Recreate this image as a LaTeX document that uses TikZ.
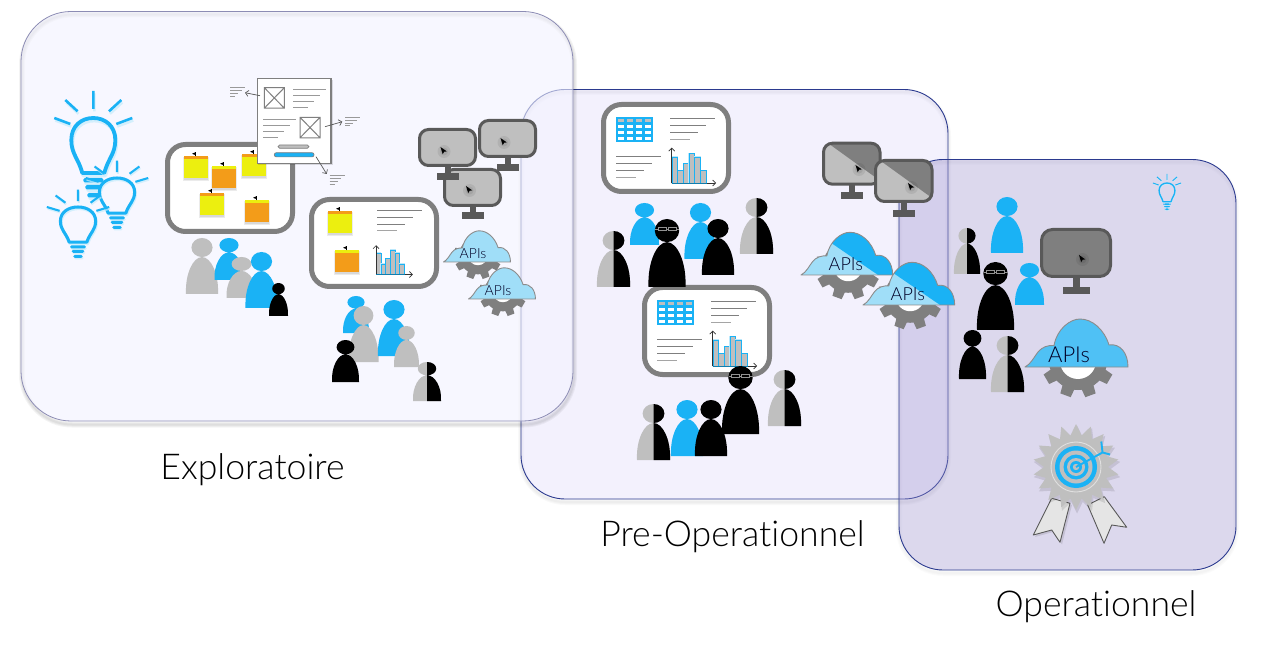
\documentclass[tikz,border=0pt]{standalone}
\usepackage{fontspec}
\usetikzlibrary{arrows.meta}
\setmainfont{Lato}[UprightFont=* Light,Ligatures=NoCommon,Contextuals=NoAlternate]
\definecolor{cblue}{HTML}{1AB2F5}
\definecolor{cgray}{HTML}{BFBFBF}
\definecolor{cdark}{HTML}{595959}
\definecolor{cmid}{HTML}{7F7F7F}
\definecolor{cyel}{HTML}{ECEF0F}
\definecolor{corg}{HTML}{F39C19}
\definecolor{cpale}{HTML}{A0DEF8}
\definecolor{cbig}{HTML}{4FC1F5}
\definecolor{pa}{HTML}{F3F3FF}
\definecolor{pb}{HTML}{DDD7FC}
\definecolor{pc}{HTML}{9B90CE}
\definecolor{bordera}{HTML}{8C8CB4}
\definecolor{borderb}{HTML}{2B3A8F}
\tikzset{
  panelone/.style={fill=pa,fill opacity=.6,draw=bordera,draw opacity=1,line width=.8pt,rounded corners=50pt},
  paneltwo/.style={fill=pb,fill opacity=.35,draw=borderb,draw opacity=1,line width=.9pt,rounded corners=44pt},
  boardbox/.style={draw=cmid,line width=5pt,fill=white,rounded corners=18pt},
  screenbox/.style={draw=cdark,line width=3pt,rounded corners=9pt},
  txtline/.style={draw=cmid,line width=.8pt},
  minline/.style={draw=cmid!80,line width=.7pt},
  chev/.style={-{Straight Barb[length=3pt,width=6pt]}},
  thinarrow/.style={chev,draw=cdark,line width=.7pt},
  caption/.style={font=\fontsize{35.6}{36}\selectfont,text=black},
  apismall/.style={font=\fontsize{14}{14}\selectfont,xshift=-1pt},
  apimid/.style={font=\fontsize{18}{18}\selectfont,xshift=3pt},
  apibig/.style={font=\fontsize{22}{22}\selectfont,xshift=-3pt},
}
\newcommand\pshape{(-.5,0) .. controls (-.53,-.36) and (-.28,-.66) .. (0,-.66) .. controls (.28,-.66) and (.53,-.36) .. (.5,0) -- cycle (0,-.83) ellipse (.33 and .17)}
\newcommand\mkperson[5]{\begin{scope}[shift={(#1,#2)},xscale=#3,yscale=#4]\fill[#5] \pshape;\end{scope}}
\newcommand\mkhalf[4]{\begin{scope}[shift={(#1,#2)},xscale=#3,yscale=#4]\fill[cgray] \pshape;\begin{scope}\clip (0,-1.05) rectangle (1,.05);\fill[black] \pshape;\end{scope}\end{scope}}
\newcommand\mkglass[4]{\mkperson{#1}{#2}{#3}{#4}{black}\begin{scope}[shift={(#1,#2)},yshift=.85*#4 pt]\draw[cmid!85!white,line width=.55pt] (-12,0) -- (-9,0) (-.8,0) -- (.8,0) (9,0) -- (12,0) (-9,-1.5) rectangle (-.8,1.5) (.8,-1.5) rectangle (9,1.5);\end{scope}}
\newcommand\mkbulbpaths[1]{%
  \draw[line width=#1*3.8pt,line join=round] (-11,55) .. controls (-15,40) and (-22,36) .. (-22,22) .. controls (-22,8) and (-12,0) .. (0,0) .. controls (12,0) and (22,8) .. (22,22) .. controls (22,36) and (15,40) .. (11,55) -- cycle;
  \draw[line width=#1*2.6pt] (0,-27) -- (0,-9) (-28,-18) -- (-15.7,-6.7) (28,-18) -- (15.7,-6.7) (-39,0) -- (-23,6) (39,0) -- (23,6);
  \fill[rounded corners=1.5pt] (-10,60) rectangle (10,64.5) (-8,67) rectangle (8,71.5) (-6,75) rectangle (6,79.5);
}
\newcommand\mkbulb[4]{\begin{scope}[shift={(#1,#2)},xscale=#3,yscale=#4]
  \begin{scope}[shift={(1,2.5)},draw=cblue!25,fill=cblue!25,opacity=.7]\mkbulbpaths{#3}\end{scope}
  \begin{scope}[draw=cblue,fill=cblue]\mkbulbpaths{#3}\end{scope}
\end{scope}}
\newcommand\mknote[4]{\begin{scope}[shift={(#1,#2)}]
  \fill[black,opacity=.08] (-1,1) rectangle (25,25);
  \fill[black,opacity=.08] (0,1) rectangle (24,24);
  \fill[#3] (0,0) rectangle (24,22);
  \fill[#4] (0,0) rectangle (24,3.2);
  \draw[black,line width=.5pt] (11.5,.5) -- (11.5,-3.5);
  \fill[black] (11.5,-3.8) -- (8,-2.2) -- (11.5,-.9) -- cycle;
\end{scope}}
\newcommand\mkchart[3]{\begin{scope}[shift={(#1,#2)},scale=#3]
  \foreach \i/\h in {0/25.7,1/12.3,2/19.3,3/29.3,4/25.7,5/12.3}{
    \fill[cblue!30] (\i*5.67+.3-.6,0) rectangle (\i*5.67+6+.6,-\h-.8);
    \fill[cgray] (\i*5.67+.3,0) rectangle (\i*5.67+6,-\h);
    \draw[cblue,line width=.8pt] (\i*5.67+.3,0) -- (\i*5.67+.3,-\h) -- (\i*5.67+6,-\h) -- (\i*5.67+6,0);
  }
  \draw[chev,black!80,line width=.7pt] (0,.5) -- (0,-35);
  \draw[chev,black!80,line width=.7pt] (0,.3) -- (44.5,.3);
  \draw[cblue!70!black,line width=.8pt] (0,.3) -- (35,.3);
\end{scope}}
\newcommand\mktable[2]{\begin{scope}[shift={(#1,#2)}]
  \fill[cblue] (0,0) rectangle (37,25);
  \foreach \r/\yy in {0/2,1/8,2/14,3/19.7}{\foreach \xx in {1.7,11,20,29}{
    \ifnum\r=0 \fill[cgray] (\xx,\yy) rectangle ++(5.8,3); \else \fill[white] (\xx,\yy) rectangle ++(5.8,3); \fi}}
\end{scope}}
\newcommand\mkfour[2]{\begin{scope}[shift={(#1,#2)}]
  \draw[txtline] (0,0) -- (45,0) (0,7) -- (36,7) (0,14) -- (28,14);
  \draw[txtline,cmid!70,line width=1pt] (0,21) -- (20,21);
\end{scope}}
\newcommand\mkmini[2]{\begin{scope}[shift={(#1,#2)}]
  \draw[minline] (0,0) -- (15,0) (0,2.8) -- (11.5,2.8) (0,5.6) -- (8,5.6) (0,8.4) -- (5,8.4);
\end{scope}}
\newcommand\mkcursor[2]{\begin{scope}[shift={(#1,#2)}]
  \fill[black,opacity=.07] (3.5,4.5) circle (6.5);
  \fill[black,opacity=.08] (3.5,4.5) circle (4);
  \fill[black] (0,0) -- (6.3,4.4) -- (3.6,4.7) -- (2.2,7.2) -- cycle;
\end{scope}}
\newcommand\mkstand[3]{\fill[cdark] (#1-2.8,#2-1) rectangle (#1+2.8,#3+1);\fill[cdark] (#1-11,#3) rectangle (#1+11,#3+7);}
\newcommand\mkscreen[5]{\draw[screenbox,fill=#5] (#1+1.5,#2+1.5) rectangle (#1+#3-1.5,#2+#4-1.5);}
\newcommand\mkhalfscreen[4]{%
  \begin{scope}\path[rounded corners=9pt,clip] (#1+1.5,#2+1.5) rectangle (#1+#3-1.5,#2+#4-1.5);
    \fill[cgray] (#1,#2) rectangle (#1+#3,#2+#4);
    \fill[cmid] (#1+4,#2) -- (#1+#3,#2+#4-4) -- (#1+#3,#2) -- cycle;
  \end{scope}
  \draw[screenbox] (#1+1.5,#2+1.5) rectangle (#1+#3-1.5,#2+#4-1.5);}
\newcommand\cshape{(0,0) .. controls (6,-3) and (9,-10) .. (13,-15) .. controls (17,-20) and (23,-22) .. (29,-21.5) .. controls (32,-38) and (45,-48) .. (55,-48) .. controls (67,-48) and (79,-38) .. (84,-22) .. controls (95,-24) and (103,-14) .. (103,0) -- cycle}
% x y scale textstyle fill halfopacity name geardy holeradius
\newcommand\mkcloud[9]{\begin{scope}[shift={(#1,#2)},scale=#3]
  \begin{scope}[shift={(53,#8)}]
    \fill[cmid] (0,0) circle (29);
    \foreach \a in {-100,-60,-20,20,60,100}{\fill[cmid,rotate=\a] (-6.5,25) -- (-5.5,36.5) -- (5.5,36.5) -- (6.5,25) -- cycle;}
    \fill[white] (0,0) circle (#9);
  \end{scope}
  \fill[#5] \cshape;
  \begin{scope}\clip \cshape;\fill[cblue,opacity=#6] (0,-59.2) -- (110,16) -- (110,-60) -- cycle;\end{scope}
  \draw[cmid!90,line width=.9pt,line join=round] \cshape;
  \node[text=black!85!blue,inner sep=0pt,#4] (#7) at (47,-12.5) {APIs};
\end{scope}}
\begin{document}
\begin{tikzpicture}[x=1pt,y=-1pt,line cap=butt]
\useasboundingbox (0,0) rectangle (1269,652);
\fill[white] (0,0) rectangle (1269,652);
% panel two
\foreach \w in {2,4,6}{\draw[black,opacity=.025,line width=\w pt,rounded corners=44pt] (521,92) rectangle (948,502);}
\draw[paneltwo] (521,89.5) rectangle (948,499);
% panel one above it
\foreach \w in {2,4,6}{\draw[black,opacity=.045,line width=\w pt,rounded corners=50pt] (22,14.5) rectangle (574,424.5);}
\draw[panelone] (21,11.5) rectangle (573,421);
% panel three
\foreach \w in {2,4,6}{\draw[black,opacity=.015,line width=\w pt,rounded corners=44pt] (899,162) rectangle (1236,573);}
\draw[paneltwo,fill=pc] (899,159.5) rectangle (1236,570);
% captions
\node[caption] (cap1) at (252.5,470) {Exploratoire};
\node[caption] (cap2) at (732.5,537) {Pre-Operationnel};
\node[caption] (cap3) at (1096,607) {Operationnel};
% bulbs
\mkbulb{93.3}{118}{1}{1}
\mkbulb{117}{178}{.8}{.64}
\mkbulb{78}{207}{.8}{.64}
\mkbulb{1167}{183}{.36}{.34}
% board 1
\draw[boardbox] (167.5,144.5) rectangle (292.5,231.5);
\mknote{184}{156}{cyel}{corg}
\mknote{212}{166}{corg}{cyel}
\mknote{242}{154}{cyel}{corg}
\mknote{200}{193}{cyel}{corg}
\mknote{245}{200}{corg}{cyel}
% wireframe
\fill[black,opacity=.12] (258,80) rectangle (333,165.5);
\draw[cmid,line width=1.2pt,fill=white] (257.5,78.5) rectangle (331,163.3);
\foreach \bx/\by in {264.3/87.7,300/117.3}{
 \draw[cmid,line width=1pt] (\bx,\by) rectangle ++(20,20.5) (\bx,\by) -- ++(20,20.5) (\bx+20,\by) -- ++(-20,20.5);}
\draw[minline,line width=.8pt] (293,89) -- (326,89) (293,95) -- (320,95) (293,101) -- (314,101) (293,107) -- (308,107);
\draw[minline,line width=.8pt] (263.3,119.7) -- (296.3,119.7) (263.3,125.7) -- (290.3,125.7) (263.3,131.7) -- (284.3,131.7) (263.3,137.7) -- (278.3,137.7);
\draw[cmid,line width=.7pt,fill=cgray,rounded corners=1.6pt] (278,145) rectangle (309,148.3);
\draw[cmid,line width=.7pt,fill=cblue,rounded corners=2pt] (274.3,152.7) rectangle (314,156.9);
\coordinate (wa) at (260,95.7); \coordinate (wb) at (245,92.7);
\coordinate (wc) at (325,126.7); \coordinate (wd) at (342.3,121.7);
\coordinate (we) at (316,156.7); \coordinate (wf) at (326.7,174);
\draw[thinarrow] (wa) -- (wb);
\draw[thinarrow] (wc) -- (wd);
\draw[thinarrow] (we) -- (wf);
\mkmini{230}{87.7}
\mkmini{345}{117.3}
\mkmini{329.5}{175.7}
% people 1
\mkperson{202}{294}{32}{56}{cgray}
\mkperson{229}{280}{29}{42}{cblue}
\mkperson{241.5}{298}{30}{41}{cgray}
\mkperson{261.5}{308}{32}{56}{cblue}
\mkperson{278.5}{316}{19}{33}{black}
% board 2
\draw[boardbox] (311.5,199.5) rectangle (436.5,286.5);
\mknote{328}{211}{cyel}{corg}
\mknote{335}{250}{corg}{cyel}
\mkfour{377}{210}
\mkchart{376}{274.3}{.83}
% monitors
\mkstand{473}{207}{212}
\mkscreen{443}{168}{59}{39}{cgray}
\mkcursor{466}{186}
\mkstand{448}{167}{173}
\mkscreen{418}{128}{59}{39}{cgray}
\mkcursor{440.5}{147}
\mkstand{508}{158}{164}
\mkscreen{478}{119}{59}{39}{cgray}
\mkcursor{500.5}{138}
% clouds 1
\mkcloud{443.5}{262}{.65}{apismall}{cpale}{0}{apia}{-10}{15}
\mkcloud{468.5}{299}{.65}{apismall}{cpale}{0}{apib}{-10}{15}
% people 2
\mkperson{356}{333}{26}{37}{cblue}
\mkperson{363.5}{362}{30}{56}{cgray}
\mkperson{394}{356}{32}{56}{cblue}
\mkperson{406.5}{367}{25}{41}{cgray}
\mkperson{345.5}{382}{27}{42}{black}
\mkhalf{427}{401}{28}{39}
% board 3, 4
\draw[boardbox] (603.5,104.5) rectangle (728.5,191.5);
\mktable{616}{117}
\mkfour{670}{118.3}
\mkfour{616}{156.3}
\mkchart{671.7}{182.7}{1}
\draw[boardbox] (644.5,287.5) rectangle (769.5,374.5);
\mktable{657}{300}
\mkfour{711}{301.3}
\mkfour{657}{339.3}
\mkchart{712.7}{365.7}{1}
% people 3
\mkperson{644.5}{245}{29}{42}{cblue}
\mkhalf{613.5}{287}{33}{56}
\mkglass{667}{287}{37}{68}
\mkperson{700.5}{259}{32}{56}{cblue}
\mkperson{718}{275}{32}{56}{black}
\mkhalf{756.5}{254}{33}{56}
% people 4
\mkhalf{653.5}{460}{33}{56}
\mkperson{687}{456}{32}{56}{cblue}
\mkperson{711}{456}{32}{56}{black}
\mkglass{740.5}{434}{37}{68}
\mkhalf{784.5}{426}{33}{56}
% monitors half
\mkstand{852}{185}{192}
\mkhalfscreen{822}{141.7}{59.5}{44}
\mkcursor{855.5}{165}
\mkstand{904}{203}{210}
\mkhalfscreen{874}{159}{59.5}{44}
\mkcursor{908}{183}
% clouds 2
\mkcloud{801}{275}{.89}{apimid}{cpale}{1}{apic}{-9}{16}
\mkcloud{863}{305}{.89}{apimid}{cpale}{1}{apid}{-9}{16}
% people 5
\mkperson{1007}{253}{32}{56}{cblue}
\mkhalf{967}{274}{26}{46}
\mkglass{995.5}{330}{37}{68}
\mkperson{1029.5}{305}{29}{42}{cblue}
\mkperson{972.5}{379}{27}{49}{black}
\mkhalf{1007.5}{392}{33}{56}
% monitor dark
\fill[cdark] (1073,277) rectangle (1079.5,288);
\fill[cdark] (1063,287) rectangle (1090,294);
\draw[screenbox,fill=cmid,rounded corners=11pt] (1041.5,229.5) rectangle (1110.5,276.5);
\mkcursor{1079}{255}
% big cloud
\mkcloud{1025}{367}{1}{apibig}{cbig}{0}{apie}{-6}{18}
% medal
\fill[black,opacity=.1] (1053,500) -- (1072,505) -- (1062,544.5) -- (1053,532) -- (1035,537) -- cycle;
\draw[cdark,line width=.9pt,fill=black!10,line join=round] (1051.7,498.3) -- (1070,503.3) -- (1060,542.3) -- (1051.7,530) -- (1033.3,535) -- cycle;
\draw[cdark,line width=.9pt,fill=black!10,line join=round] (1087.7,505) -- (1104.3,496.7) -- (1126.7,527.3) -- (1111.7,525) -- (1104,543.3) -- cycle;
\begin{scope}[shift={(1076,467)}]
  \begin{scope}[shift={(1,2.5)}]
  \fill[black,opacity=.1] (10:44) \foreach \a in {10,30,...,350}{ -- (\a:44) -- (\a+10:33)} -- cycle;
  \end{scope}
  \fill[cgray] (10:43) \foreach \a in {10,30,...,350}{ -- (\a:43) -- (\a+10:32)} -- cycle;
  \draw[black!12,line width=.9pt] (0,0) circle (25);
  \fill[cblue] (0,0) circle (21);
  \fill[cgray] (0,0) circle (16.5);
  \fill[cblue] (0,0) circle (12.5);
  \fill[cgray] (0,0) circle (9);
  \fill[cblue] (0,0) circle (6);
  \fill[cgray] (0,0) circle (3.2);
  \draw[cblue,line width=1.9pt] (0,0) -- (26.5,-14.5) (25.3,-25.5) -- (26.5,-14.5) -- (34,-12.5);
\end{scope}
\end{tikzpicture}
\end{document}
